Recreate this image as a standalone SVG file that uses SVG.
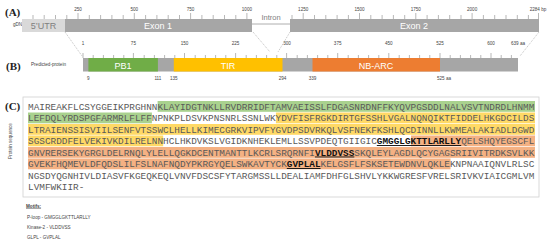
<svg xmlns="http://www.w3.org/2000/svg" width="550" height="243" viewBox="0 0 550 243">
<style>
.pl{font-family:"Liberation Serif",serif;font-weight:bold;font-size:11px;fill:#222}
.sm{font-family:"Liberation Sans",Arial,sans-serif;font-size:4.6px;fill:#444}
.bl{font-family:"Liberation Sans",Arial,sans-serif;font-size:9px;fill:#fff;text-anchor:middle}
.seq{font-family:"Liberation Mono","Courier New",monospace;font-size:9.39px;fill:#595959}
.mot{font-weight:bold;fill:#111;text-decoration:underline}
.tk{stroke:#888;stroke-width:0.6}
.dot{stroke:#999;stroke-width:0.6;stroke-dasharray:1 1;fill:none}
.g{fill:#A9D18E}.y{fill:#FFD966}.o{fill:#F4B183}
</style>
<rect width="550" height="243" fill="#fff"/>

<g id="panelA">
<text class="pl" x="5" y="16">(A)</text>
<text class="sm" x="13" y="26" font-size="4px">gDNA</text>
<g id="ticksA">
<path class="tk" d="M33,15V19M44.2,15V19M55.5,15V19M66.8,15V19M78,13V19M89.3,15V19M100.6,15V19M111.9,15V19M123.2,15V19M134.3,13V19M145.6,15V19M156.9,15V19M168.2,15V19M179.5,15V19M190.6,13V19M201.9,15V19M213.2,15V19M224.5,15V19M235.8,15V19M246.9,13V19"/>
<path class="tk" d="M292,15V19M303.2,13V19M314.5,15V19M325.8,15V19M337.1,15V19M348.4,15V19M359.5,13V19M370.8,15V19M382.1,15V19M393.4,15V19M404.7,15V19M415.8,13V19M427.1,15V19M438.4,15V19M449.7,15V19M461,15V19M472.1,13V19M483.4,15V19M494.7,15V19M506,15V19M517.3,15V19M528.4,15V19M538.5,13V19"/>
</g>
<g class="sm" text-anchor="middle">
<text x="78" y="11">250</text><text x="134.3" y="11">500</text><text x="190.6" y="11">750</text><text x="246.9" y="11">1000</text>
<text x="303.2" y="11">1250</text><text x="359.5" y="11">1500</text><text x="415.8" y="11">1750</text><text x="472.1" y="11">2000</text><text x="538" y="11">2284 bp</text>
</g>
<g id="utr"><rect x="22" y="19" width="43" height="13" fill="#D9D9D9"/><text class="bl" x="43.5" y="28.5" fill="#808080" style="fill:#808080">5’UTR</text></g>
<g id="exon1"><rect x="65" y="19" width="187" height="13" fill="#A6A6A6"/><text class="bl" x="158" y="28.5">Exon 1</text></g>
<g id="intron"><line x1="252" y1="24" x2="290" y2="24" stroke="#999" stroke-width="0.8"/><text x="271" y="20" font-family="Liberation Sans,Arial,sans-serif" font-size="7.5" fill="#808080" text-anchor="middle">Intron</text></g>
<g id="exon2"><rect x="290" y="19" width="249" height="13" fill="#A6A6A6"/><text class="bl" x="414" y="28.5">Exon 2</text></g>
</g>

<g id="connectors">
<path class="dot" d="M65,32L82,56M253,32L270,52M290,32L278,52M539,32L520,56"/>
</g>

<g id="aaScale" class="sm" text-anchor="middle">
<text x="83" y="45">1</text><text x="133.4" y="45">75</text><text x="184.5" y="45">150</text><text x="235.6" y="45">225</text>
<text x="287" y="45">300</text><text x="337.7" y="45">375</text><text x="388.8" y="45">450</text><text x="440" y="45">525</text><text x="491" y="45">600</text><text x="518" y="45">639 aa</text>
</g>

<g id="panelB">
<text class="pl" x="6" y="70">(B)</text>
<text class="sm" x="31" y="66" font-size="4.2px">Predicted-protein</text>
<path class="tk" d="M83,53V58M93.2,55V58M103.4,55V58M113.6,55V58M123.8,55V58M133.4,53V58M144.2,55V58M154.4,55V58M164.6,55V58M174.8,55V58M184.5,53V58M195.2,55V58M205.4,55V58M215.6,55V58M225.8,55V58M235.6,53V58M246.2,55V58M256.4,55V58M266.6,55V58M276.8,55V58M286.6,53V58M297.2,55V58M307.4,55V58M317.6,55V58M327.8,55V58M337.7,53V58M348.2,55V58M358.4,55V58M368.6,55V58M378.8,55V58M388.8,53V58M399.2,55V58M409.4,55V58M419.6,55V58M429.8,55V58M440,53V58M450.2,55V58M460.4,55V58M470.6,55V58M480.8,55V58M491,53V58M501.2,55V58M511.4,55V58"/>
<rect id="protein" x="83" y="58" width="435" height="13.5" fill="#A6A6A6"/>
<g id="PB1"><rect x="88.4" y="58" width="69.5" height="13.5" fill="#70AD47"/><text class="bl" x="123" y="68.5" font-size="10">PB1</text></g>
<g id="TIR"><rect x="173.8" y="58" width="108.7" height="13.5" fill="#FFC000"/><text class="bl" x="228" y="68.5" font-size="10">TIR</text></g>
<g id="NBARC"><rect x="312.5" y="58" width="127.5" height="13.5" fill="#ED7D31"/><text class="bl" x="376" y="68.5" font-size="10">NB-ARC</text></g>
<g class="sm" text-anchor="middle">
<text x="88.4" y="80">9</text><text x="157.9" y="80">111</text><text x="173.8" y="80">135</text><text x="282.5" y="80">294</text><text x="312.5" y="80">339</text><text x="444" y="80">525 aa</text>
</g>
</g>

<g id="panelC">
<text class="pl" x="5" y="110">(C)</text>
<text class="sm" font-size="4px" text-anchor="middle" transform="translate(11.5,141) rotate(-90)">Protein sequence</text>
<rect x="23" y="97" width="516" height="100" fill="#fff" stroke="#d0d0d0" stroke-width="0.8"/>
<g id="highlights">
<rect class="g" x="157.6" y="101" width="377.4" height="10.8"/>
<rect class="g" x="28" y="112.5" width="123.9" height="10.8"/>
<rect class="y" x="275.9" y="112.5" width="259.1" height="10.8"/>
<rect class="y" x="28" y="124" width="507" height="10.8"/>
<rect class="y" x="28" y="135.5" width="135.2" height="10.8"/>
<rect class="o" x="411" y="135.5" width="124" height="10.8"/>
<rect class="o" x="28" y="147" width="507" height="10.8"/>
<rect class="o" x="28" y="158.5" width="422.5" height="10.8"/>
</g>
<g class="seq">
<text x="28" y="109.5">MAIREAKFLCSYGGEIKPRGHNNKLAYIDGTNKLLRVDRRIDFTAMVAEISSLFDGASNRDNFFKYQVPGSDDLNALVSVTNDRDLHNMM</text>
<text x="28" y="121">LEFDQLYRDSPGFARMRLFLFFNPNKPLDSVKPNSNRLSSNLWKYDVFISFRGKDIRTGFSSHLVGALNQNQIKTFIDDELHKGDCILDS</text>
<text x="28" y="132.5">LTRAIENSSISVIILSENFVTSSWCLHELLKIMECGRKVIPVFYGVDPSDVRKQLVSFNEKFKSHLQCDINNLLKWMEALAKIADLDGWD</text>
<text x="28" y="144">SGSCRDDFELVEKIVKDILRELNNHCLHKDVKSLVGIDKNHEKLEMLLSSVPDEQTGIIGIC<tspan class="mot">GMGGLGKTTLARLLY</tspan>QELSHQYEGSCFL</text>
<text x="28" y="155.5">GNVRERSEKYGRGLDELRNQLYLELLQGKDCENTMANTTLKCRLSRQRNFI<tspan class="mot">VLDDVSS</tspan>SKQLEYLAGDLQCYGAGSRIIVITRDKSVLKK</text>
<text x="28" y="167">GVEKFHQMEVLDFQDSLILFSLNAFNQDYPKRGYQELSWKAVTYCK<tspan class="mot">GVPLAL</tspan>KELGSFLFSKSETEWDNVLQKLEKNPNAAIQNVLRLSC</text>
<text x="28" y="178.5">NGSDYQGNHIVLDIASVFKGEQKEQLVNVFDSCSFYTARGMSSLLDEALIAMFDHFGLSHVLYKKWGRESFVRELSRIVKVIAICGMLVM</text>
<text x="28" y="190">LVMFWKIIR-</text>
</g>
<g id="motifs" class="sm" font-size="5px">
<text x="26" y="207.5" font-weight="bold" text-decoration="underline" style="font-weight:bold">Motifs:</text>
<text x="27" y="218.5">P-loop - GMGGLGKTTLARLLY</text>
<text x="27" y="228.5">Kinase-2 - VLDDVSS</text>
<text x="27" y="238.5">GLPL - GVPLAL</text>
</g>
</g>
</svg>
